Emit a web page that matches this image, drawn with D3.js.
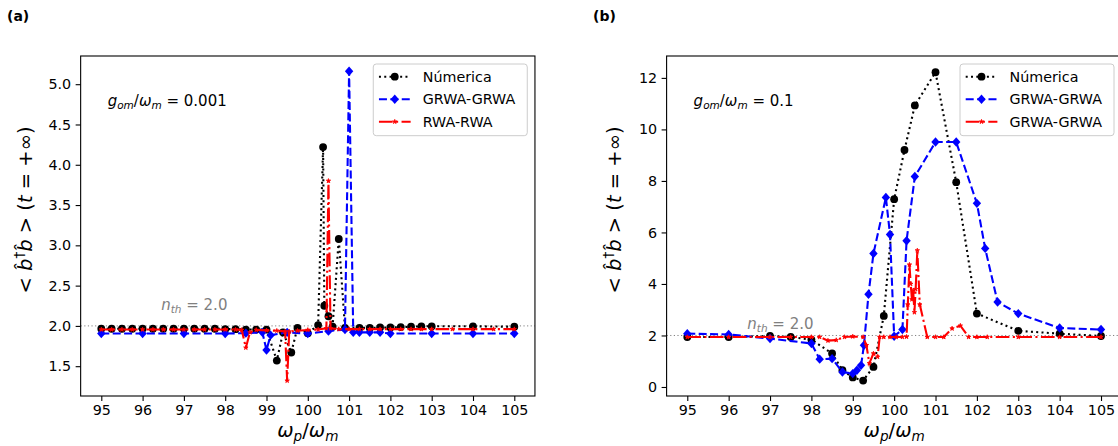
<!DOCTYPE html>
<html><head><meta charset="utf-8">
<script src="https://cdn.jsdelivr.net/npm/d3@7"></script>
<style>body{margin:0;background:#fff} text{font-family:"DejaVu Sans",sans-serif}</style>
</head><body><svg id="c" width="1118" height="446"></svg>
<script>
// ---------- data ----------
const xTicks = [95,96,97,98,99,100,101,102,103,104,105];
const aYTicks = [1.5,2.0,2.5,3.0,3.5,4.0,4.5,5.0];
const bYTicks = [0,2,4,6,8,10,12];
const nth = 2.0;
const aLegend = ["Númerica","GRWA-GRWA","RWA-RWA"];
const bLegend = ["Númerica","GRWA-GRWA","GRWA-GRWA"];

// panel (a)  g_om/w_m = 0.001
const aNumX = [95,95.25,95.5,95.75,96,96.25,96.5,96.75,97,97.25,97.5,97.75,98,98.25,98.5,98.75,99,99.25,99.4,99.6,99.75,100,100.25,100.37,100.4,100.5,100.6,100.75,100.9,101.25,101.5,101.75,102,102.25,102.5,102.75,103,104,105];
const aNumY = [1.965,1.965,1.965,1.965,1.965,1.965,1.965,1.965,1.965,1.965,1.965,1.965,1.96,1.96,1.955,1.955,1.955,1.57,1.92,1.67,1.975,1.91,2.01,4.22,2.25,2.12,1.99,3.08,1.975,1.975,1.975,1.98,1.98,1.985,1.99,1.995,1.995,1.995,1.99];
const aGrX = [95,96,97,98,98.5,98.9,99,99.1,99.5,100,100.5,100.9,101,101.1,101.25,101.5,101.75,102,103,104,105];
const aGrY = [1.905,1.905,1.905,1.905,1.91,1.92,1.70,1.885,1.92,1.905,1.935,1.955,5.16,1.92,1.92,1.92,1.92,1.905,1.905,1.905,1.905];
const aRwX = [95,95.25,95.5,95.75,96,96.25,96.5,96.75,97,97.25,97.5,97.75,98,98.25,98.4,98.5,98.6,98.75,99,99.25,99.45,99.5,99.55,99.75,100,100.25,100.45,100.5,100.55,100.75,101,101.25,101.5,101.75,102,102.25,102.5,102.75,103,103.5,104,104.5,105];
const aRwY = [1.955,1.955,1.955,1.955,1.955,1.955,1.955,1.955,1.955,1.955,1.955,1.955,1.955,1.955,1.95,1.73,1.92,1.95,1.945,1.94,1.93,1.32,1.93,1.94,1.95,1.955,1.97,3.8,1.97,1.96,1.96,1.96,1.96,1.96,1.96,1.96,1.96,1.96,1.96,1.96,1.96,1.96,1.96];

// panel (b)  g_om/w_m = 0.1
const bNumX = [95,96,97,97.5,98,98.5,98.75,99,99.25,99.5,99.75,100,100.25,100.5,101,101.5,102,103,104,105];
const bNumY = [1.94,1.94,1.98,1.94,1.84,1.30,0.65,0.37,0.25,0.78,2.76,7.29,9.2,10.93,12.22,7.95,2.85,2.18,2.07,1.98];
const bGrX = [95,96,97,98,98.2,98.5,98.75,99,99.1,99.2,99.27,99.38,99.5,99.8,99.9,100,100.2,100.3,100.5,101,101.5,102,102.2,102.5,103,104,105];
const bGrY = [2.07,2.04,1.88,1.69,1.08,1.10,0.58,0.52,0.65,0.84,1.62,3.6,5.18,7.36,5.92,1.97,2.23,5.68,8.17,9.51,9.51,7.13,5.38,3.30,2.85,2.29,2.23];
const bRwX = [95,96,97,97.5,98,98.2,98.4,98.6,98.8,99,99.25,99.33,99.4,99.5,99.6,99.65,99.75,99.9,100.05,100.2,100.3,100.33,100.37,100.4,100.43,100.46,100.49,100.52,100.56,100.62,100.8,101,101.2,101.4,101.6,101.8,102,102.25,103,104,105];
const bRwY = [1.94,1.94,1.94,1.94,1.94,1.94,1.80,1.82,1.94,1.96,1.94,1.62,0.92,1.30,1.17,1.94,1.94,1.94,1.94,1.94,1.95,3.2,4.75,4.0,3.4,3.75,2.9,3.8,5.3,3.2,1.94,1.94,1.94,2.27,2.38,1.94,1.94,1.94,1.94,1.94,1.94];

// ---------- drawing ----------
const svg = d3.select("#c");
svg.append("rect").attr("width",1118).attr("height",446).attr("fill","#fff");
const TOP = 56, BOTTOM = 396, FS = 14.3;

const styles = [
  {color:"#000", dash:"2,3.3", marker:"circle"},
  {color:"#0000ff", dash:"8,3.4", marker:"diamond"},
  {color:"#ff0000", dash:"13.7,3.4,2.1,3.4", marker:"star"}
];

function drawMarker(g, type, cx, cy, color){
  if(type==="circle"){
    g.append("circle").attr("cx",cx).attr("cy",cy).attr("r",3.9).attr("fill",color);
  } else if(type==="diamond"){
    const rx=4.2, ry=4.7;
    g.append("path").attr("d",`M${cx},${cy-ry}L${cx+rx},${cy}L${cx},${cy+ry}L${cx-rx},${cy}Z`).attr("fill",color);
  } else {
    g.append("path").attr("transform",`translate(${cx},${cy})`).attr("d",d3.symbol(d3.symbolStar,6)()).attr("fill",color).attr("stroke",color).attr("stroke-width",0.8);
  }
}

function panel(cfg){
  const x = d3.scaleLinear().domain([94.5,105.5]).range([cfg.x0,cfg.x1]);
  const y = d3.scaleLinear().domain(cfg.yDomain).range([BOTTOM,TOP]);
  const id = "clip"+cfg.name;
  svg.append("clipPath").attr("id",id).append("rect").attr("x",cfg.x0).attr("y",TOP).attr("width",cfg.x1-cfg.x0).attr("height",BOTTOM-TOP);
  const g = svg.append("g").attr("clip-path",`url(#${id})`);

  // n_th reference line
  g.append("line").attr("x1",cfg.x0).attr("x2",cfg.x1).attr("y1",y(nth)).attr("y2",y(nth))
    .attr("stroke","#808080").attr("stroke-width",1).attr("stroke-dasharray","1.2,2.4");

  const line = d3.line().x(d=>x(d[0])).y(d=>y(d[1]));
  cfg.series.forEach((s,i)=>{
    const st = styles[i];
    const pts = s[0].map((v,k)=>[v,s[1][k]]);
    g.append("path").attr("d",line(pts)).attr("fill","none").attr("stroke",st.color)
      .attr("stroke-width",2.1).attr("stroke-dasharray",st.dash);
    pts.forEach(p=>drawMarker(g, st.marker, x(p[0]), y(p[1]), st.color));
  });

  // axes
  const xa = svg.append("g").attr("transform",`translate(0,${BOTTOM})`)
    .call(d3.axisBottom(x).tickValues(xTicks).tickSize(5).tickSizeOuter(0).tickPadding(4).tickFormat(d3.format("d")));
  const ya = svg.append("g").attr("transform",`translate(${cfg.x0},0)`)
    .call(d3.axisLeft(y).tickValues(cfg.yTicks).tickSize(5).tickSizeOuter(0).tickPadding(4.5).tickFormat(d3.format(cfg.fmt)));
  [xa,ya].forEach(a=>{
    a.select(".domain").remove();
    a.attr("font-family","DejaVu Sans").attr("font-size",FS);
    a.selectAll("line").attr("stroke","#000").attr("stroke-width",1.1);
    a.selectAll("text").attr("fill","#000");
  });
  svg.append("rect").attr("x",cfg.x0).attr("y",TOP).attr("width",cfg.x1-cfg.x0).attr("height",BOTTOM-TOP)
    .attr("fill","none").attr("stroke","#000").attr("stroke-width",1.1);

  // annotation g_om/w_m
  const t = svg.append("text").attr("x",cfg.x0+27).attr("y",105.5).attr("font-size",15).attr("fill","#000");
  t.append("tspan").attr("font-style","italic").text("g");
  t.append("tspan").attr("font-style","italic").attr("font-size",10.5).attr("dy",3).text("om");
  t.append("tspan").attr("dy",-3).text("/");
  t.append("tspan").attr("font-style","italic").text("ω");
  t.append("tspan").attr("font-style","italic").attr("font-size",10.5).attr("dy",3).text("m");
  t.append("tspan").attr("dy",-3).text(" = "+cfg.g);

  // n_th text
  const n = svg.append("text").attr("x",x(96.45)).attr("y",y(cfg.nthTextY)).attr("font-size",15).attr("fill","#808080");
  n.append("tspan").attr("font-style","italic").text("n");
  n.append("tspan").attr("font-style","italic").attr("font-size",10.5).attr("dy",3).text("th");
  n.append("tspan").attr("dy",-3).text(" = 2.0");

  // x label
  const xl = svg.append("text").attr("x",(cfg.x0+cfg.x1)/2).attr("y",437).attr("text-anchor","middle").attr("font-size",19.5).attr("fill","#000");
  xl.append("tspan").attr("font-style","italic").text("ω");
  xl.append("tspan").attr("font-style","italic").attr("font-size",13.6).attr("dy",4).text("p");
  xl.append("tspan").attr("dy",-4).text("/");
  xl.append("tspan").attr("font-style","italic").text("ω");
  xl.append("tspan").attr("font-style","italic").attr("font-size",13.6).attr("dy",4).text("m");

  // y label
  const yl = svg.append("text").attr("transform",`translate(${cfg.ylx},210) rotate(-90)`).attr("text-anchor","middle").attr("font-size",19.5).attr("fill","#000");
  yl.append("tspan").text("< ");
  yl.append("tspan").attr("font-style","italic").text("b\u0302");
  yl.append("tspan").attr("font-size",13.6).attr("dy",-8).text("\u2020");
  yl.append("tspan").attr("dy",8).attr("font-style","italic").text("b\u0302");
  yl.append("tspan").text(" > (");
  yl.append("tspan").attr("font-style","italic").text("t");
  yl.append("tspan").text(" = +\u221E)");

  // panel label
  svg.append("text").attr("x",cfg.plx).attr("y",21).attr("font-family","DejaVu Serif").attr("font-weight","bold").attr("font-size",14).attr("fill","#000").text(cfg.label);

  // legend
  const bx = cfg.x1-7.7, bw = 154, bl = bx-bw;
  const lg = svg.append("g");
  lg.append("rect").attr("x",bl).attr("y",64).attr("width",bw).attr("height",71.7).attr("rx",3)
    .attr("fill","#fff").attr("fill-opacity",0.8).attr("stroke","#cccccc").attr("stroke-width",1);
  cfg.legend.forEach((lab,i)=>{
    const cy = 76.7 + i*22.5, st = styles[i];
    lg.append("line").attr("x1",bl+5.7).attr("x2",bl+37.4).attr("y1",cy).attr("y2",cy)
      .attr("stroke",st.color).attr("stroke-width",2.1).attr("stroke-dasharray",st.dash);
    drawMarker(lg, st.marker, bl+21.5, cy, st.color);
    lg.append("text").attr("x",bl+49.5).attr("y",cy+5.2).attr("font-size",FS).attr("fill","#000").text(lab);
  });
}

panel({name:"a", x0:80.65, x1:534.95, yDomain:[1.13,5.35], yTicks:aYTicks, fmt:".1f",
  series:[[aNumX,aNumY],[aGrX,aGrY],[aRwX,aRwY]], legend:aLegend, g:"0.001", nthTextY:2.2,
  ylx:32, label:"(a)", plx:7});
panel({name:"b", x0:666.6, x1:1121.7, yDomain:[-0.35,12.85], yTicks:bYTicks, fmt:"d",
  series:[[bNumX,bNumY],[bGrX,bGrY],[bRwX,bRwY]], legend:bLegend, g:"0.1", nthTextY:2.27,
  ylx:621, label:"(b)", plx:593});
</script>
</body></html>
